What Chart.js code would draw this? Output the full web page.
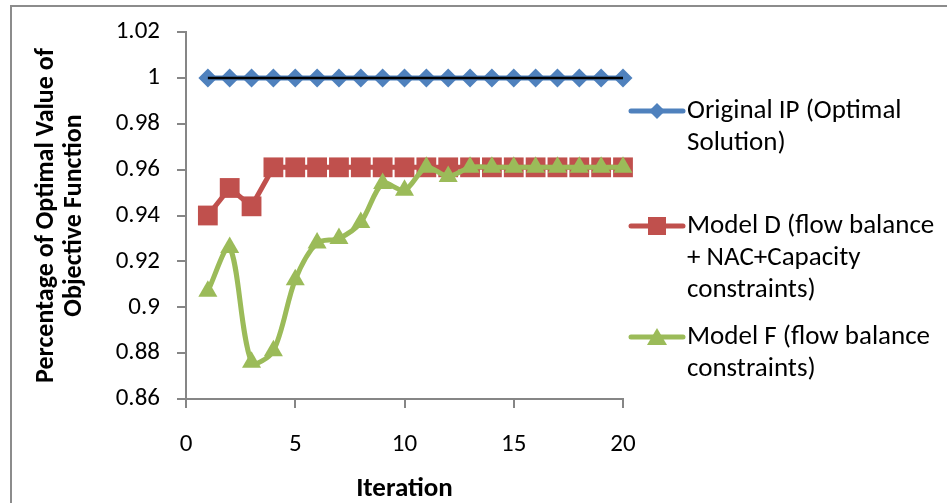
<!DOCTYPE html>
<html>
<head>
<meta charset="utf-8">
<script src="https://cdn.jsdelivr.net/npm/chart.js@4/dist/chart.umd.min.js"></script>
<style>
  html, body { margin: 0; padding: 0; background: #fff; }
  #wrap { position: relative; width: 947px; height: 503px; }
</style>
</head>
<body>
<div id="wrap"><canvas id="chart" width="947" height="503"></canvas></div>
<script>
const FONT = 'Carlito, Lato, sans-serif';

const iterations = [1, 2, 3, 4, 5, 6, 7, 8, 9, 10, 11, 12, 13, 14, 15, 16, 17, 18, 19, 20];
const originalIP = [1, 1, 1, 1, 1, 1, 1, 1, 1, 1, 1, 1, 1, 1, 1, 1, 1, 1, 1, 1];
const modelD = [0.940, 0.952, 0.944, 0.961, 0.961, 0.961, 0.961, 0.961, 0.961, 0.961,
                0.961, 0.961, 0.961, 0.961, 0.961, 0.961, 0.961, 0.961, 0.961, 0.961];
const modelF = [0.907, 0.926, 0.876, 0.881, 0.912, 0.928, 0.930, 0.937, 0.954, 0.951,
                0.961, 0.957, 0.961, 0.961, 0.961, 0.961, 0.961, 0.961, 0.961, 0.961];
const xTicks = [0, 5, 10, 15, 20];
const yTicks = [0.86, 0.88, 0.9, 0.92, 0.94, 0.96, 0.98, 1, 1.02];

const seriesNames = [
  ['Original IP (Optimal', 'Solution)'],
  ['Model D (flow balance', '+ NAC+Capacity', 'constraints)'],
  ['Model F (flow balance', 'constraints)']
];

const toPoints = ys => ys.map((y, i) => ({ x: iterations[i], y: y }));

// legend drawn on the right, with wrapped labels like the original
const sideLegend = {
  id: 'sideLegend',
  afterDraw(chart) {
    const ctx = chart.ctx;
    const items = [
      { color: '#4F81BD', shape: 'diamond', y: 111 },
      { color: '#C0504D', shape: 'square', y: 226 },
      { color: '#9BBB59', shape: 'triangle', y: 337 }
    ];
    ctx.save();
    items.forEach((it, k) => {
      ctx.strokeStyle = it.color;
      ctx.lineWidth = 5;
      ctx.lineCap = 'round';
      ctx.beginPath();
      ctx.moveTo(631, it.y);
      ctx.lineTo(683, it.y);
      ctx.stroke();
      ctx.fillStyle = it.color;
      ctx.beginPath();
      const cx = 657, cy = it.y;
      if (it.shape === 'diamond') {
        ctx.moveTo(cx, cy - 8); ctx.lineTo(cx + 8, cy); ctx.lineTo(cx, cy + 8); ctx.lineTo(cx - 8, cy);
      } else if (it.shape === 'square') {
        ctx.rect(cx - 9, cy - 9, 18, 18);
      } else {
        ctx.moveTo(cx, cy - 9); ctx.lineTo(cx + 10, cy + 8); ctx.lineTo(cx - 10, cy + 8);
      }
      ctx.closePath();
      ctx.fill();
      ctx.fillStyle = '#000';
      ctx.font = '27px ' + FONT;
      ctx.textBaseline = 'middle';
      ctx.textAlign = 'left';
      seriesNames[k].forEach((line, j) => ctx.fillText(line, 687, it.y + j * 32));
    });
    // outer frame (left and top edges visible)
    ctx.strokeStyle = '#8c8c8c';
    ctx.lineWidth = 2;
    ctx.beginPath();
    ctx.moveTo(11, 503);
    ctx.lineTo(11, 6);
    ctx.lineTo(947, 6);
    ctx.stroke();
    ctx.restore();
  }
};

new Chart(document.getElementById('chart'), {
  type: 'scatter',
  data: {
    datasets: [
      {
        label: 'line',
        data: toPoints(originalIP),
        showLine: true,
        borderColor: '#000',
        borderWidth: 2.5,
        pointRadius: 0,
        order: 0
      },
      {
        label: seriesNames[2].join(' '),
        data: toPoints(modelF),
        showLine: true,
        borderColor: '#9BBB59',
        backgroundColor: '#9BBB59',
        borderWidth: 5,
        tension: 0.3,
        pointStyle: 'triangle',
        pointRadius: 11,
        pointBorderWidth: 0,
        order: 1
      },
      {
        label: seriesNames[1].join(' '),
        data: toPoints(modelD),
        showLine: true,
        borderColor: '#C0504D',
        backgroundColor: '#C0504D',
        borderWidth: 5,
        pointStyle: 'rect',
        pointRadius: 14,
        pointBorderWidth: 0,
        order: 2
      },
      {
        label: seriesNames[0].join(' '),
        data: toPoints(originalIP),
        showLine: true,
        borderColor: '#4F81BD',
        backgroundColor: '#4F81BD',
        borderWidth: 5,
        pointStyle: 'rectRot',
        pointRadius: 9.5,
        pointBorderWidth: 0,
        order: 3
      }
    ]
  },
  options: {
    responsive: false,
    animation: false,
    clip: false,
    layout: { padding: { top: 30, right: 324, left: 0, bottom: 0 } },
    plugins: {
      legend: { display: false },
      tooltip: { enabled: false }
    },
    scales: {
      x: {
        type: 'linear',
        min: 0,
        max: 20,
        afterBuildTicks: s => { s.ticks = xTicks.map(v => ({ value: v })); },
        afterFit: s => { s.height = 104; },
        grid: { drawOnChartArea: false, tickLength: 9, color: '#868686', lineWidth: 2 },
        border: { color: '#868686', width: 2 },
        ticks: { color: '#000', font: { family: FONT, size: 25 }, padding: 22, maxRotation: 0 },
        title: {
          display: true,
          text: 'Iteration',
          color: '#000',
          font: { family: FONT, size: 27, weight: 'bold', lineHeight: 1 },
          padding: { top: 0, bottom: 0 }
        }
      },
      y: {
        min: 0.86,
        max: 1.02,
        afterBuildTicks: s => { s.ticks = yTicks.map(v => ({ value: v })); },
        afterFit: s => { s.width = 186; },
        grid: { drawOnChartArea: false, tickLength: 9, color: '#868686', lineWidth: 2 },
        border: { color: '#868686', width: 2 },
        ticks: {
          color: '#000',
          font: { family: FONT, size: 25 },
          padding: 17,
          callback: v => String(parseFloat(v.toFixed(2)))
        },
        title: {
          display: true,
          text: ['Percentage of Optimal Value of', 'Objective Function'],
          color: '#000',
          font: { family: FONT, size: 26, weight: 'bold', lineHeight: 1.1 },
          padding: { top: 32, bottom: 0 }
        }
      }
    }
  },
  plugins: [sideLegend]
});
</script>
</body>
</html>
